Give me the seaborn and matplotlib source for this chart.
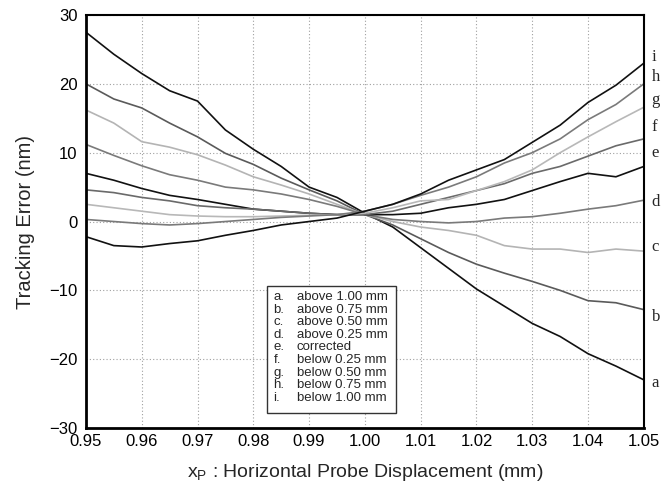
import pandas as pd
import matplotlib
matplotlib.use("Agg")
import matplotlib.pyplot as plt
from matplotlib.patches import Rectangle
import seaborn as sns

# probe position (mm)
x_mm = [0.950, 0.955, 0.960, 0.965, 0.970, 0.975, 0.980, 0.985, 0.990, 0.995, 1.000,
        1.005, 1.010, 1.015, 1.020, 1.025, 1.030, 1.035, 1.040, 1.045, 1.050]

# tracking error (nm)
a_above_100 = [27.5, 24.3, 21.5, 19.0, 17.5, 13.3, 10.5, 8.0, 5.0, 3.5, 1.2,
               -0.8, -3.8, -6.8, -9.8, -12.3, -14.8, -16.7, -19.2, -21.0, -23.0]
b_above_075 = [20.0, 17.8, 16.5, 14.3, 12.3, 9.9, 8.3, 6.3, 4.6, 3.0, 1.0,
               -0.5, -2.5, -4.5, -6.2, -7.5, -8.7, -10.0, -11.5, -11.8, -12.8]
c_above_050 = [16.2, 14.3, 11.6, 10.8, 9.7, 8.2, 6.5, 5.3, 4.0, 2.5, 1.0,
               0.0, -0.8, -1.3, -2.0, -3.5, -4.0, -4.0, -4.5, -4.0, -4.3]
d_above_025 = [11.2, 9.6, 8.1, 6.8, 6.0, 5.0, 4.6, 4.0, 3.2, 2.2, 1.0,
               0.3, 0.0, -0.2, 0.0, 0.5, 0.7, 1.2, 1.8, 2.3, 3.1]
e_corrected = [7.0, 6.0, 4.8, 3.8, 3.2, 2.5, 1.8, 1.5, 1.2, 1.0, 1.0,
               1.0, 1.2, 2.0, 2.5, 3.2, 4.5, 5.8, 7.0, 6.5, 8.0]
f_below_025 = [4.6, 4.2, 3.5, 3.0, 2.3, 2.0, 1.8, 1.5, 1.2, 1.0, 1.0,
               1.5, 2.5, 3.5, 4.5, 5.5, 7.0, 8.0, 9.5, 11.0, 12.0]
g_below_050 = [2.5, 2.0, 1.5, 1.0, 0.8, 0.7, 0.7, 0.8, 0.9, 1.0, 1.2,
               2.0, 3.0, 3.2, 4.5, 5.8, 7.5, 10.0, 12.3, 14.5, 16.6]
h_below_075 = [0.3, 0.0, -0.3, -0.5, -0.3, 0.0, 0.3, 0.6, 0.8, 1.0, 1.5,
               2.5, 3.8, 5.0, 6.5, 8.5, 10.0, 12.0, 14.8, 17.0, 20.0]
i_below_100 = [-2.2, -3.5, -3.7, -3.2, -2.8, -2.0, -1.3, -0.5, 0.0, 0.5, 1.5,
               2.5, 4.0, 6.0, 7.5, 9.0, 11.5, 14.0, 17.3, 19.8, 23.0]

letters = ["a", "b", "c", "d", "e", "f", "g", "h", "i"]
descriptions = ["above 1.00 mm", "above 0.75 mm", "above 0.50 mm", "above 0.25 mm",
                "corrected", "below 0.25 mm", "below 0.50 mm", "below 0.75 mm",
                "below 1.00 mm"]
curves = [a_above_100, b_above_075, c_above_050, d_above_025, e_corrected,
          f_below_025, g_below_050, h_below_075, i_below_100]
# where the letter tags sit at the right edge (nm)
tag_y = [-23.4, -13.8, -3.7, 2.9, 10.0, 13.7, 17.6, 21.0, 23.9]

shades = ["#111111", "#5a5a5a", "#b4b4b4", "#7a7a7a", "#111111",
          "#6a6a6a", "#b8b8b8", "#7a7a7a", "#111111"]

rows = []
for letter, ys in zip(letters, curves):
    for xv, yv in zip(x_mm, ys):
        rows.append({"x": xv, "err": yv, "curve": letter})
df = pd.DataFrame(rows)

sns.set_style("white")
plt.rcParams["font.family"] = ["Liberation Sans", "DejaVu Sans"]

fig = plt.figure(figsize=(6.61, 4.92), dpi=100)
ax = fig.add_axes([0.130, 0.130, 0.844, 0.8395])

sns.lineplot(data=df, x="x", y="err", hue="curve",
             palette=dict(zip(letters, shades)), linewidth=1.2,
             legend=False, ax=ax)

ax.set_xlim(0.95, 1.05)
ax.set_ylim(-30, 30)
ax.set_xticks([0.95 + 0.01 * k for k in range(11)])
ax.set_xticklabels([f"{0.95 + 0.01 * k:.2f}" for k in range(11)])
ax.set_yticks(range(-30, 31, 10))
ax.grid(True, color="#a0a0a0", linestyle=(0, (1, 2)), linewidth=0.8)
ax.tick_params(direction="in", length=8, width=1.5, labelsize=12,
               colors="black", pad=4)
ax.tick_params(axis="y", pad=6)
for side in ["left", "bottom"]:
    ax.spines[side].set_linewidth(2.0)
for side in ["top", "right"]:
    ax.spines[side].set_linewidth(1.5)
for s in ax.spines.values():
    s.set_color("black")

ax.set_xlabel(r"x$_\mathregular{P}$ : Horizontal Probe Displacement (mm)",
              fontsize=14, labelpad=10)
ax.set_ylabel("Tracking Error (nm)", fontsize=14.5, labelpad=10)

# letter tags to the right of the frame
for letter, ty in zip(letters, tag_y):
    ax.text(1.0514, ty, letter, fontsize=12, va="center", ha="left",
            family=["Liberation Serif", "DejaVu Serif"], clip_on=False)

# key box
ax.add_patch(Rectangle((0.324, 0.036), 0.232, 0.308, transform=ax.transAxes,
                       facecolor="white", edgecolor="#333333", linewidth=1.0,
                       zorder=5))
top = 0.317
step = 0.0305
for k, (letter, desc) in enumerate(zip(letters, descriptions)):
    yk = top - k * step
    ax.text(0.336, yk, letter + ".", transform=ax.transAxes, fontsize=9.5,
            va="center", ha="left", zorder=6)
    ax.text(0.378, yk, desc, transform=ax.transAxes, fontsize=9.5,
            va="center", ha="left", zorder=6)

fig.savefig("out.png", dpi=100)
